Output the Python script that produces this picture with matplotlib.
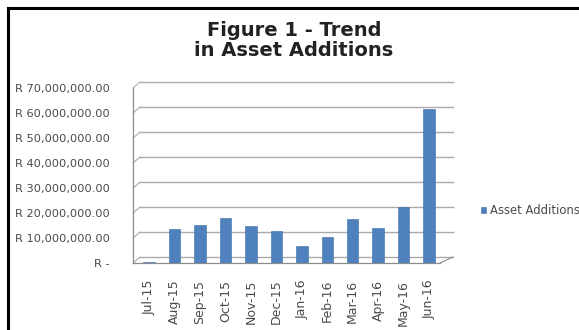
import matplotlib
matplotlib.use("Agg")
import matplotlib.pyplot as plt
from matplotlib.lines import Line2D

# Monthly asset additions (Rand)
months = ["Jul-15", "Aug-15", "Sep-15", "Oct-15", "Nov-15", "Dec-15",
          "Jan-16", "Feb-16", "Mar-16", "Apr-16", "May-16", "Jun-16"]
additions = [400_000, 13_600_000, 15_300_000, 18_000_000, 14_800_000, 12_700_000,
             6_700_000, 10_500_000, 17_600_000, 13_900_000, 22_500_000, 61_600_000]
series_name = "Asset Additions"
y_ticks = [0, 10_000_000, 20_000_000, 30_000_000, 40_000_000, 50_000_000,
           60_000_000, 70_000_000]
y_labels = ["R -", "R 10,000,000.00", "R 20,000,000.00", "R 30,000,000.00",
            "R 40,000,000.00", "R 50,000,000.00", "R 60,000,000.00", "R 70,000,000.00"]

W, H, DPI = 579, 330, 100
plt.rcParams["font.family"] = ["DejaVu Sans"]

fig = plt.figure(figsize=(W / DPI, H / DPI), dpi=DPI)
fig.patch.set_facecolor("white")

ax_l, ax_r, ax_b, ax_t = 133, 440, 263, 88  # pixel box of the plot floor/axis
ax = fig.add_axes([ax_l / W, 1 - ax_b / H, (ax_r - ax_l) / W, (ax_b - ax_t) / H])
ax.set_facecolor("none")

x = list(range(len(months)))
xlim = (-0.63, len(months) - 1 + 0.43)
ylim = (0, 70_000_000)
ax.set_xlim(*xlim)
ax.set_ylim(*ylim)

# depth offset of the back wall, in data units
px_x = (xlim[1] - xlim[0]) / (ax_r - ax_l)
px_y = (ylim[1] - ylim[0]) / (ax_b - ax_t)
dx, dy = 13 * px_x, 6 * px_y
grid_c = "#ababab"

# back-wall gridlines with short side-wall connectors
for v in y_ticks:
    ax.add_line(Line2D([xlim[0] + dx * 0.55, xlim[1] + dx], [v + dy, v + dy],
                       color=grid_c, lw=1.0, clip_on=False, zorder=1))
    ax.add_line(Line2D([xlim[0], xlim[0] + dx * 0.55], [v, v + dy],
                       color=grid_c, lw=0.8, clip_on=False, zorder=1))

# floor edges
ax.add_line(Line2D([xlim[0], xlim[1]], [0, 0], color="#8c8c8c", lw=0.9,
                   clip_on=False, zorder=2))
ax.add_line(Line2D([xlim[1], xlim[1] + dx], [0, dy], color="#8c8c8c", lw=0.8,
                   clip_on=False, zorder=2))

ax.bar(x, additions, width=0.45, color="#4f81bd", edgecolor="#3d6ea8",
       linewidth=0.4, zorder=3, label=series_name)

for s in ["top", "right", "bottom"]:
    ax.spines[s].set_visible(False)
ax.spines["left"].set_color("#8c8c8c")
ax.spines["left"].set_linewidth(0.9)

ax.set_yticks(y_ticks)
ax.set_yticklabels(y_labels, fontsize=8.2, color="#4a4a4a")
ax.tick_params(axis="y", length=0, pad=17)
ax.set_xticks(x)
ax.set_xticklabels(months, rotation=90, fontsize=9, color="#4a4a4a")
ax.tick_params(axis="x", length=0, pad=12)

fig.text(294 / W, 1 - 21 / H, "Figure 1 - Trend\nin Asset Additions",
         ha="center", va="top", ma="center", fontsize=14, fontweight="bold",
         color="#222222", linespacing=1.1)

fig.legend(loc="center left", bbox_to_anchor=(481 / W, 1 - 211 / H),
           frameon=False, fontsize=8.4, handlelength=0.45, handleheight=0.45,
           handletextpad=0.35, borderpad=0, borderaxespad=0, labelcolor="#4a4a4a")

# outer chart frame (top and left edges)
fig.add_artist(Line2D([8 / W, 1.0], [1 - 7.5 / H, 1 - 7.5 / H],
                      transform=fig.transFigure, color="black", lw=2.2))
fig.add_artist(Line2D([8 / W, 8 / W], [1 - 7.5 / H, 0],
                      transform=fig.transFigure, color="black", lw=2.2))

fig.savefig("out.png", dpi=DPI)
